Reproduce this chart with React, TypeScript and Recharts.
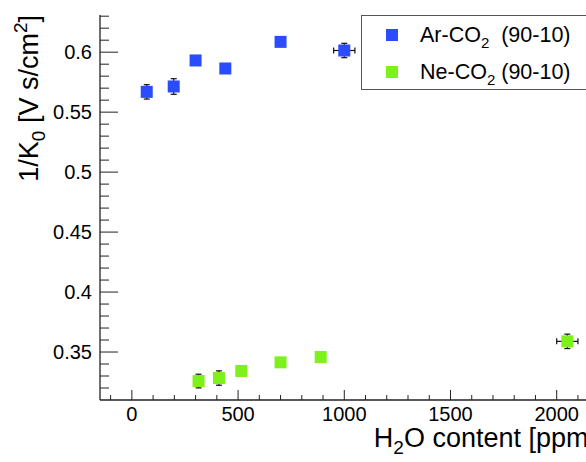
import { ScatterChart, Scatter, XAxis, YAxis, ErrorBar, Legend } from "recharts"

const FONT = "'Liberation Sans', Arial, Helvetica, sans-serif"

// Ar-CO2 (90-10)
const arWater = [70, 197, 300, 440, 700, 1000]
const arInvK0 = [0.5669, 0.5714, 0.5931, 0.5864, 0.6086, 0.6014]
const arInvK0Err = [0.006, 0.0065, 0.003, 0.003, 0.003, 0.006]
const arWaterErr = [0, 0, 0, 0, 0, 50]

// Ne-CO2 (90-10)
const neWater = [314, 410, 515, 700, 889, 2050]
const neInvK0 = [0.3258, 0.3283, 0.3342, 0.3414, 0.3458, 0.3589]
const neInvK0Err = [0.0057, 0.006, 0.003, 0.003, 0.003, 0.006]
const neWaterErr = [0, 0, 0, 0, 0, 50]

const seriesNames = ["Ar-CO", "Ne-CO"]
const seriesColors = ["#2a4cfc", "#7ef01a"]

const xMajor = [0, 500, 1000, 1500, 2000]
const yMajor = [0.35, 0.4, 0.45, 0.5, 0.55, 0.6]

// minor ticks (ROOT style: 100 ppm and 0.01 steps)
const xTicks: number[] = []
for (let v = -100; v <= 2100; v += 100) xTicks.push(v)
const yTicks: number[] = []
for (let i = 32; i <= 63; i++) yTicks.push(i / 100)

const X_DOMAIN: [number, number] = [-150, 2185]
const Y_DOMAIN: [number, number] = [0.31, 0.631]

const arData = arWater.map((x, i) => ({ x, y: arInvK0[i], ey: arInvK0Err[i], ex: arWaterErr[i] }))
const neData = neWater.map((x, i) => ({ x, y: neInvK0[i], ey: neInvK0Err[i], ex: neWaterErr[i] }))

const AXIS = "#222"
const Y_MARGIN = 8
const X_MARGIN = 7

function isMajor(list: number[], v: number) {
  return list.some((m) => Math.abs(m - v) < 1e-6)
}

function YTick(props: any) {
  const { x, y, payload } = props
  const v = payload.value
  const major = isMajor(yMajor, v)
  const ax = x + Y_MARGIN
  return (
    <g>
      <line x1={ax} x2={ax + (major ? 18 : 9)} y1={y} y2={y} stroke={AXIS} strokeWidth={1} />
      {major && (
        <text x={x} y={y} dy="0.36em" textAnchor="end" fontSize={20} fontFamily={FONT} fill="#000">
          {String(v)}
        </text>
      )}
    </g>
  )
}

function XTick(props: any) {
  const { x, y, payload } = props
  const v = payload.value
  const major = isMajor(xMajor, v)
  const ay = y - X_MARGIN
  return (
    <g>
      <line x1={x} x2={x} y1={ay} y2={ay - (major ? 10 : 5)} stroke={AXIS} strokeWidth={1} />
      {major && (
        <text x={x} y={y} dy="0.71em" textAnchor="middle" fontSize={20} fontFamily={FONT} fill="#000">
          {String(v)}
        </text>
      )}
    </g>
  )
}

function XTitle(props: any) {
  const { viewBox } = props
  const x = viewBox.x + viewBox.width
  const y = viewBox.y + 47
  return (
    <text x={x} y={y} textAnchor="end" fontSize={27} fontFamily={FONT} fill="#000">
      H
      <tspan fontSize={19} dy={7}>2</tspan>
      <tspan dy={-7}>O content [ppm]</tspan>
    </text>
  )
}

function YTitle(props: any) {
  const { viewBox } = props
  const x = viewBox.x + 37.5
  const y = viewBox.y
  return (
    <text
      x={x}
      y={y}
      transform={`rotate(-90 ${x} ${y})`}
      textAnchor="end"
      fontSize={27}
      fontFamily={FONT}
      fill="#000"
    >
      1/K
      <tspan fontSize={19} dy={7}>0</tspan>
      <tspan dy={-7}> [V s/cm</tspan>
      <tspan fontSize={19} dy={-11}>2</tspan>
      <tspan dy={11}>]</tspan>
    </text>
  )
}

function Square(color: string) {
  return (p: any) => <rect x={p.cx - 6} y={p.cy - 6} width={12} height={12} fill={color} />
}

function LegendBox() {
  return (
    <div
      style={{
        position: "relative",
        width: 260,
        height: 73,
        border: "1px solid #555",
        background: "#fff",
        fontFamily: FONT,
        fontSize: 21.5,
        color: "#000",
      }}
    >
      {seriesNames.map((name, i) => (
        <div key={name}>
          <div
            style={{
              position: "absolute",
              left: 24,
              top: 13 + i * 37,
              width: 12,
              height: 12,
              background: seriesColors[i],
            }}
          />
          <div
            style={{
              position: "absolute",
              left: 58,
              top: 6 + i * 37,
              lineHeight: "26px",
              whiteSpace: "pre",
            }}
          >
            {name}
            <span style={{ fontSize: 15, position: "relative", top: 6 }}>2</span>
            {i === 0 ? "  (90-10)" : " (90-10)"}
          </div>
        </div>
      ))}
    </div>
  )
}

export default function App() {
  return (
    <div
      style={{
        position: "fixed",
        left: 0,
        top: 0,
        width: 586,
        height: 462,
        overflow: "hidden",
        background: "#fff",
      }}
    >
      <ScatterChart width={610} height={462} margin={{ top: 15, right: 14, bottom: 0, left: 0 }}>
        <XAxis
          dataKey="x"
          type="number"
          domain={X_DOMAIN}
          ticks={xTicks}
          interval={0}
          allowDataOverflow
          height={62}
          tickSize={0}
          tickMargin={X_MARGIN}
          tickLine={false}
          axisLine={{ stroke: AXIS, strokeWidth: 1.3 }}
          tick={<XTick />}
          label={<XTitle />}
        />
        <XAxis
          xAxisId="top"
          orientation="top"
          type="number"
          domain={X_DOMAIN}
          height={0}
          tick={false}
          tickLine={false}
          axisLine={{ stroke: AXIS, strokeWidth: 1.3 }}
        />
        <YAxis
          dataKey="y"
          type="number"
          domain={Y_DOMAIN}
          ticks={yTicks}
          interval={0}
          allowDataOverflow
          width={100}
          tickSize={0}
          tickMargin={Y_MARGIN}
          tickLine={false}
          axisLine={{ stroke: AXIS, strokeWidth: 1.3 }}
          tick={<YTick />}
          label={<YTitle />}
        />
        <YAxis
          yAxisId="right"
          orientation="right"
          type="number"
          domain={Y_DOMAIN}
          width={0}
          tick={false}
          tickLine={false}
          axisLine={{ stroke: AXIS, strokeWidth: 1.3 }}
        />
        <Legend
          layout="vertical"
          align="center"
          verticalAlign="middle"
          wrapperStyle={{ left: 361, top: 15, width: 260, height: 75 }}
          content={() => <LegendBox />}
        />
        <Scatter name="Ar-CO2 (90-10)" data={arData} shape={Square(seriesColors[0])} isAnimationActive={false}>
          <ErrorBar dataKey="ey" direction="y" width={3} stroke="#111" strokeWidth={1.2} />
          <ErrorBar dataKey="ex" direction="x" width={3} stroke="#111" strokeWidth={1.2} />
        </Scatter>
        <Scatter name="Ne-CO2 (90-10)" data={neData} shape={Square(seriesColors[1])} isAnimationActive={false}>
          <ErrorBar dataKey="ey" direction="y" width={3} stroke="#111" strokeWidth={1.2} />
          <ErrorBar dataKey="ex" direction="x" width={3} stroke="#111" strokeWidth={1.2} />
        </Scatter>
      </ScatterChart>
    </div>
  )
}
